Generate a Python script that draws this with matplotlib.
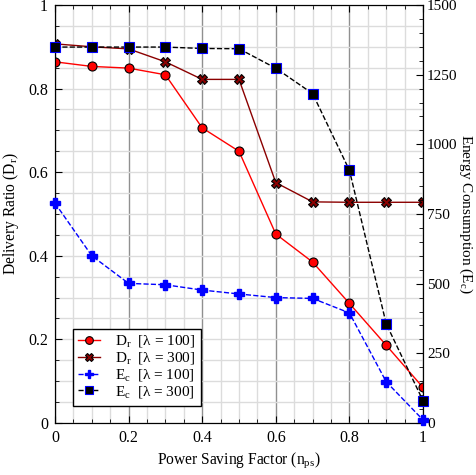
import matplotlib
matplotlib.use("Agg")
import matplotlib.pyplot as plt
from matplotlib.ticker import MultipleLocator

plt.rcParams['font.family'] = ['Liberation Serif', 'DejaVu Serif']
plt.rcParams['mathtext.fontset'] = 'custom'
plt.rcParams['mathtext.rm'] = 'Liberation Serif'

# data
nps = [0.0, 0.1, 0.2, 0.3, 0.4, 0.5, 0.6, 0.7, 0.8, 0.9, 1.0]
dr100 = [0.864, 0.853, 0.849, 0.833, 0.706, 0.650, 0.452, 0.385, 0.286, 0.186, 0.085]
dr300 = [0.907, 0.900, 0.895, 0.864, 0.822, 0.822, 0.575, 0.529, 0.528, 0.528, 0.528]
ec100 = [789, 600, 501, 496, 477, 463, 450, 447, 395, 148, 11]
ec300 = [1349, 1349, 1349, 1349, 1344, 1343, 1273, 1182, 907, 356, 80]

fig = plt.figure(figsize=(4.77, 4.75), dpi=100)
ax = fig.add_axes([0.1153, 0.1095, 0.7715, 0.88])
ax2 = ax.twinx()

# grid
ax.set_axisbelow(True)
ax.xaxis.set_minor_locator(MultipleLocator(0.05))
ax.yaxis.set_minor_locator(MultipleLocator(0.05))
ax.xaxis.set_major_locator(MultipleLocator(0.2))
ax.yaxis.set_major_locator(MultipleLocator(0.2))
ax.grid(True, which='minor', color='#dcdcdc', lw=1.0)
ax.grid(True, which='major', axis='y', color='#dcdcdc', lw=1.0)
ax.grid(True, which='major', axis='x', color='#909090', lw=1.0)

l1, = ax.plot(nps, dr100, '-o', color='red', mfc='red', mec='black', ms=6.5, lw=1.0, mew=0.8)
l2, = ax.plot(nps, dr300, '-X', color='#8b0000', mfc='#8b0000', mec='black', ms=7, lw=1.0, mew=0.8)
l3, = ax2.plot(nps, ec100, '--P', color='blue', mfc='blue', mec='blue', ms=7, lw=1.0, clip_on=False, zorder=3)
l4, = ax2.plot(nps, ec300, '--s', color='black', mfc='black', mec='blue', ms=6.5, lw=1.0, mew=0.8, clip_on=False, zorder=3)

ax.set_xlim(0, 1)
ax.set_ylim(0, 1)
ax2.set_ylim(0, 1500)
ax2.yaxis.set_major_locator(MultipleLocator(250))
ax2.yaxis.set_minor_locator(MultipleLocator(50))

ax.set_xticks([0, 0.2, 0.4, 0.6, 0.8, 1.0])
ax.set_xticklabels(['0', '0.2', '0.4', '0.6', '0.8', '1'])
ax.set_yticks([0, 0.2, 0.4, 0.6, 0.8, 1.0])
ax.set_yticklabels(['0', '0.2', '0.4', '0.6', '0.8', '1'])

ax.tick_params(which='both', direction='in', top=True, labelsize=11.5, pad=5)
ax.tick_params(which='major', length=5)
ax.tick_params(which='minor', length=3)
ax2.tick_params(which='both', direction='in', labelsize=11, pad=3)
ax2.tick_params(which='major', length=5)
ax2.tick_params(which='minor', length=3)

ax.set_xlabel(r'Power Saving Factor (n$_\mathrm{ps}$)', fontsize=11.2, labelpad=3)
ax.set_ylabel(r'Delivery Ratio (D$_\mathrm{r}$)', fontsize=11.2)
ax.yaxis.set_label_coords(-0.092, 0.5)
ax2.set_ylabel(r'Energy Consumption (E$_\mathrm{c}$)', fontsize=11, rotation=270, va='center')
ax2.yaxis.set_label_coords(1.116, 0.5)

leg = ax2.legend([l1, l2, l3, l4],
                 [r'D$_\mathrm{r}$  [λ = 100]', r'D$_\mathrm{r}$  [λ = 300]',
                  r'E$_\mathrm{c}$  [λ = 100]', r'E$_\mathrm{c}$  [λ = 300]'],
                 loc='lower left', bbox_to_anchor=(0.049, 0.041), borderaxespad=0,
                 fontsize=11, fancybox=False, edgecolor='black', framealpha=1,
                 handlelength=1.4, handletextpad=1.0, markerscale=0.85,
                 labelspacing=0.02, borderpad=0.35)
leg.get_frame().set_linewidth(1.0)

fig.savefig('out.png', dpi=100)
